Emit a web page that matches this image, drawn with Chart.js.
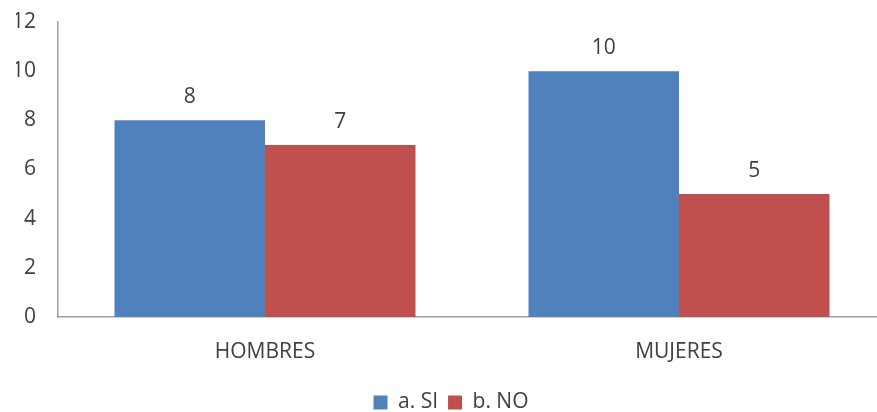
<!DOCTYPE html>
<html>
<head>
<meta charset="utf-8">
<script src="https://cdn.jsdelivr.net/npm/chart.js@4"></script>
<style>
  html, body { margin:0; padding:0; background:#fff; overflow:hidden; }
  #wrap { width:892px; height:412px; }
</style>
</head>
<body>
<div id="wrap"><canvas id="chart" width="892" height="412"></canvas></div>
<script>
const categories = ['HOMBRES', 'MUJERES'];
const seriesNames = ['a. SI', 'b. NO'];
const siValues = [8, 10];
const noValues = [7, 5];
const yTicks = [0, 2, 4, 6, 8, 10, 12];

const textColor = '#404040';
const font = { family: "'Open Sans', sans-serif", size: 21 };

// value labels above each bar
const barLabels = {
    id: 'barLabels',
    afterDatasetsDraw(chart) {
        const ctx = chart.ctx;
        ctx.save();
        ctx.fillStyle = textColor;
        ctx.font = font.size + 'px ' + font.family;
        ctx.textAlign = 'center';
        ctx.textBaseline = 'middle';
        chart.data.datasets.forEach((ds, i) => {
            chart.getDatasetMeta(i).data.forEach((bar, j) => {
                ctx.fillText(ds.data[j], bar.x, bar.y - 23);
            });
        });
        ctx.restore();
    }
};

new Chart(document.getElementById('chart'), {
    type: 'bar',
    data: {
        labels: categories,
        datasets: [
            { label: seriesNames[0], data: siValues, backgroundColor: '#4F81BD' },
            { label: seriesNames[1], data: noValues, backgroundColor: '#C0504D' }
        ]
    },
    options: {
        responsive: false,
        animation: false,
        layout: { padding: { top: 22, left: 16, right: 6, bottom: -11 } },
        datasets: { bar: { barPercentage: 1, categoryPercentage: 0.727 } },
        plugins: {
            tooltip: { enabled: false },
            legend: {
                position: 'bottom',
                labels: {
                    color: textColor, font: font,
                    boxWidth: 14, boxHeight: 14, padding: 10
                }
            }
        },
        scales: {
            x: {
                grid: { display: false, drawTicks: false },
                border: { color: '#a0a0a0', width: 1.5 },
                ticks: { color: textColor, font: font, padding: 22 },
                afterFit(s) { s.height = 65; s.paddingLeft = 0; s.paddingRight = 0; }
            },
            y: {
                min: 0, max: 12,
                afterBuildTicks(s) { s.ticks = yTicks.map(v => ({ value: v })); },
                grid: { display: false, drawTicks: false },
                border: { color: '#a0a0a0', width: 1.5 },
                ticks: { color: textColor, font: font, padding: 22 },
                afterFit(s) { s.width = 42; s.paddingTop = 0; s.paddingBottom = 0; }
            }
        }
    },
    plugins: [barLabels]
});
</script>
</body>
</html>
